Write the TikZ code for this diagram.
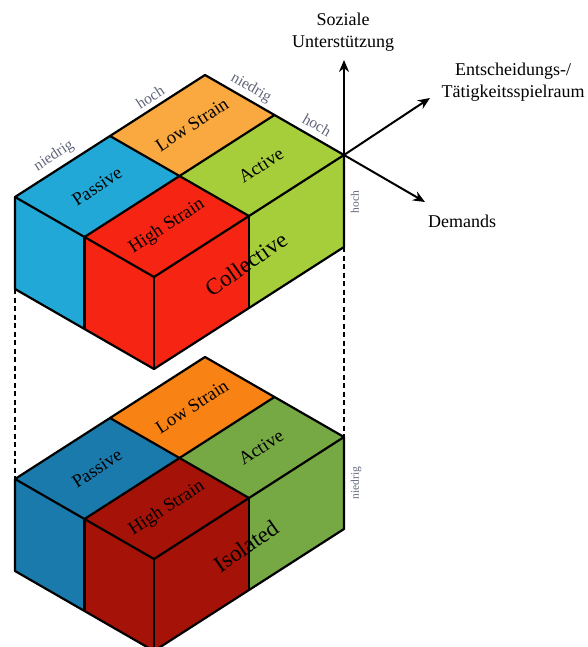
\documentclass[tikz,border=0pt]{standalone}
\usepackage{fontspec}
\setmainfont{Liberation Serif}
\usetikzlibrary{arrows.meta}

% cell colours, upper (collective) block
\definecolor{passiveA}{HTML}{22A8D6}
\definecolor{lowA}{HTML}{FAA840}
\definecolor{activeA}{HTML}{A6CE3A}
\definecolor{highA}{HTML}{F62412}
% cell colours, lower (isolated) block
\definecolor{passiveB}{HTML}{1A7AAC}
\definecolor{lowB}{HTML}{F98214}
\definecolor{activeB}{HTML}{76A844}
\definecolor{highB}{HTML}{A51208}
\definecolor{scalegray}{rgb}{0.38,0.40,0.48}

\tikzset{
  blockline/.style={line width=2.2pt, line join=round},
  celltext/.style={inner sep=0pt, rotate=33, font=\fontsize{18.5}{22}\selectfont},
  bigtext/.style={inner sep=0pt, rotate=35, font=\fontsize{23}{27}\selectfont},
  scaletext/.style={inner sep=0pt, text=scalegray, font=\fontsize{15.5}{18}\selectfont},
  sidescale/.style={inner sep=0pt, rotate=90, text=scalegray, font=\fontsize{11.5}{14}\selectfont},
  axis/.style={line width=2pt, -{Stealth[length=12pt,width=10pt]}},
  axislabel/.style={inner sep=0pt, align=center, font=\fontsize{18}{22}\selectfont},
  linkline/.style={line width=2pt, dash pattern=on 5pt off 3.5pt},
}

% one 2x2 block of the model: #1 name prefix, #2 vertical offset,
% #3 passive, #4 low strain, #5 active, #6 high strain, #7 block title
\newcommand\jdcBlock[7]{%
\begin{scope}[shift={(0,#2)}]
  \coordinate (#1B)  at (205,75);
  \coordinate (#1L)  at (15,197);
  \coordinate (#1R)  at (344,155);
  \coordinate (#1F)  at (154,277);
  \coordinate (#1LB) at (110,136);
  \coordinate (#1BR) at (274.5,115);
  \coordinate (#1RF) at (249,216);
  \coordinate (#1FL) at (84.5,237);
  \coordinate (#1C)  at (179.5,176);
  \coordinate (#1Ld)  at (15,289);
  \coordinate (#1FLd) at (84.5,329);
  \coordinate (#1Fd)  at (154,369);
  \coordinate (#1RFd) at (249,308);
  \coordinate (#1Rd)  at (344,247);
  % top faces
  \fill[#3] (#1L) -- (#1LB) -- (#1C) -- (#1FL) -- cycle;
  \fill[#4] (#1LB) -- (#1B) -- (#1BR) -- (#1C) -- cycle;
  \fill[#5] (#1C) -- (#1BR) -- (#1R) -- (#1RF) -- cycle;
  \fill[#6] (#1FL) -- (#1C) -- (#1RF) -- (#1F) -- cycle;
  % side faces
  \fill[#3] (#1L) -- (#1FL) -- (#1FLd) -- (#1Ld) -- cycle;
  \fill[#6] (#1FL) -- (#1F) -- (#1Fd) -- (#1FLd) -- cycle;
  \fill[#6] (#1F) -- (#1RF) -- (#1RFd) -- (#1Fd) -- cycle;
  \fill[#5] (#1RF) -- (#1R) -- (#1Rd) -- (#1RFd) -- cycle;
  % block title on the front faces
  \node[bigtext] (#1title) at (246,264) {#7};
  % outlines
  \draw[blockline] (#1L) -- (#1B) -- (#1R) -- (#1Rd) -- (#1Fd) -- (#1Ld) -- cycle;
  \draw[blockline] (#1L) -- (#1F) -- (#1R);
  \draw[blockline] (#1LB) -- (#1RF);
  \draw[blockline] (#1BR) -- (#1FL);
  \draw[blockline] (#1FL) -- (#1FLd);
  \draw[blockline] (#1F) -- (#1Fd);
  \draw[blockline] (#1RF) -- (#1RFd);
  % cell names
  \node[celltext] (#1passive) at (97,186.5) {Passive};
  \node[celltext] (#1low)     at (192,124.5) {Low Strain};
  \node[celltext] (#1active)  at (261,165.5) {Active};
  \node[celltext] (#1high)    at (167,226.5) {High Strain};
\end{scope}}

\begin{document}
\begin{tikzpicture}[x=1pt, y=-1pt]
  \useasboundingbox (0,0) rectangle (587,647);
  \clip (0,0) rectangle (587,647);

  \jdcBlock{t}{0}{passiveA}{lowA}{activeA}{highA}{Collective}
  \jdcBlock{b}{282}{passiveB}{lowB}{activeB}{highB}{Isolated}

  % dashed links between the two blocks
  \draw[linkline] (tLd) -- (bL);
  \draw[linkline] (tRd) -- (bR);

  % scale labels along the edges
  \node[scaletext, rotate=33]  (lowctl)   at (54,156)  {niedrig};
  \node[scaletext, rotate=33]  (highctl)  at (150,97)  {hoch};
  \node[scaletext, rotate=-30] (lowdem)   at (251,88)  {niedrig};
  \node[scaletext, rotate=-30] (highdem)  at (317,125) {hoch};
  \node[sidescale] (highsup) at (355,202) {hoch};
  \node[sidescale] (lowsup)  at (356,483) {niedrig};

  % axes
  \coordinate (upTip)   at (344,60);
  \coordinate (ctlTip)  at (430,98);
  \coordinate (demTip)  at (425,202);
  \draw[axis] (tR) -- (upTip);
  \draw[axis] (tR) -- (ctlTip);
  \draw[axis] (tR) -- (demTip);
  \node[axislabel] (suplabel) at (343,32)  {Soziale\\Unterstützung};
  \node[axislabel] (ctllabel) at (513,82)  {Entscheidungs-/\\Tätigkeitsspielraum};
  \node[axislabel] (demlabel) at (462,221) {Demands};
\end{tikzpicture}
\end{document}
